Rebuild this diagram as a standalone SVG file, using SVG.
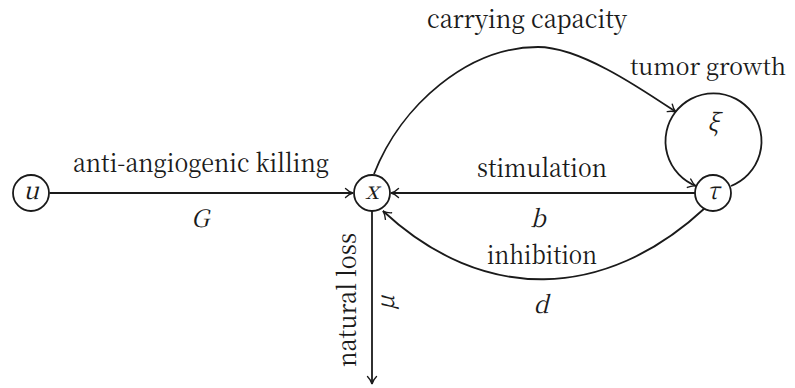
<svg xmlns="http://www.w3.org/2000/svg" width="795" height="388" viewBox="0 0 795 388">
<style>
.node{fill:#fff;stroke:#1a1a1a;stroke-width:1.8}
.edge{fill:none;stroke:#1a1a1a;stroke-width:1.8;marker-end:url(#arr)}
.txt{font-family:'Noto Serif CJK SC','Liberation Serif',serif;font-size:25px;fill:#1a1a1a;text-anchor:middle}
.math{font-family:'Noto Serif CJK SC','Liberation Serif',serif;font-style:italic;font-size:24px;text-anchor:middle;fill:#1a1a1a}
</style>
<defs>
<marker id="arr" markerWidth="14" markerHeight="14" refX="11" refY="7" orient="auto" markerUnits="userSpaceOnUse">
<path d="M3.5,2.5 Q7,6 11,7 Q7,8 3.5,11.5" fill="none" stroke="#1a1a1a" stroke-width="1.4" stroke-linecap="round"/>
</marker>
</defs>
<g id="connectors">
<path class="edge" d="M49.5,193 L353,193"/>
<path class="edge" d="M695,193 L391,193"/>
<path class="edge" d="M372,211 L372,384"/>
<path class="edge" d="M374,174 C401,105 468,47 538,47 C580,47 640,88 676,112"/>
<path class="edge" d="M705,208 C605,301 483,304 383,211"/>
<path class="edge" d="M731,186 A48,48 0 1 0 696,186"/>
</g>
<g id="node-u"><circle class="node" cx="31" cy="193" r="18"/><text class="math" x="31" y="199">u</text></g>
<g id="node-x"><circle class="node" cx="372" cy="193" r="18"/><text class="math" x="372" y="199">x</text></g>
<g id="node-tau"><circle class="node" cx="713" cy="193" r="18"/><text class="math" x="713" y="199">τ</text></g>
<g id="node-xi"><text class="math" x="713" y="131">ξ</text></g>
<g id="labels">
<text class="txt" x="201" y="172" textLength="256" lengthAdjust="spacingAndGlyphs">anti-angiogenic killing</text>
<text class="math" x="200" y="227">G</text>
<text class="txt" x="527" y="28" textLength="200" lengthAdjust="spacingAndGlyphs">carrying capacity</text>
<text class="txt" x="708" y="75" style="font-size:23px">tumor growth</text>
<text class="txt" x="542" y="177" textLength="130" lengthAdjust="spacingAndGlyphs">stimulation</text>
<text class="math" x="538" y="227">b</text>
<text class="txt" x="542" y="264" textLength="110" lengthAdjust="spacingAndGlyphs">inhibition</text>
<text class="math" x="541" y="313">d</text>
<text class="txt" transform="translate(356,300) rotate(-90)" textLength="134" lengthAdjust="spacingAndGlyphs">natural loss</text>
<text class="math" transform="translate(394,303) rotate(-90)">μ</text>
</g>
</svg>
